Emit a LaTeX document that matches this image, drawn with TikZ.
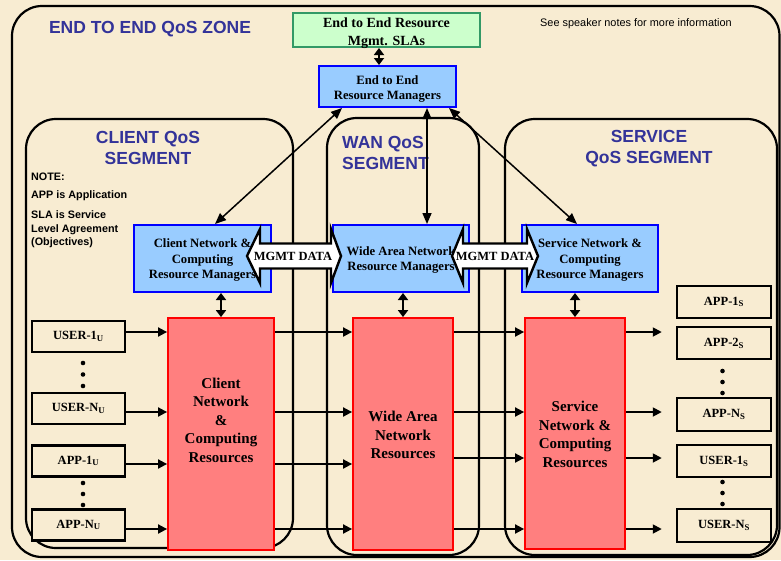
\documentclass[tikz,border=0pt]{standalone}
\usepackage{fontspec}
\setmainfont{Liberation Serif}
\setsansfont{Liberation Sans}
\usetikzlibrary{arrows.meta}

\definecolor{parch}{HTML}{F8ECD2}
\definecolor{zonetxt}{HTML}{333399}
\definecolor{slagreen}{HTML}{CCFFCC}
\definecolor{slaedge}{HTML}{339966}
\definecolor{mgrblue}{HTML}{99CCFF}
\definecolor{resred}{HTML}{FF7F7F}

\tikzset{
  zonebox/.style={draw, line width=2.2pt, rounded corners=30pt},
  zonetitle/.style={text=zonetxt, font=\sffamily\bfseries\fontsize{17.5}{21}\selectfont, align=center, inner sep=0pt},
  notetext/.style={font=\sffamily\bfseries\fontsize{10.8}{13.5}\selectfont, align=left, anchor=west, inner sep=0pt},
  slabox/.style={draw=slaedge, fill=slagreen, line width=2pt, inner sep=0pt},
  slatext/.style={font=\bfseries\fontsize{14}{18}\selectfont, align=center, inner sep=0pt},
  mgrbox/.style={draw=blue, fill=mgrblue, line width=2pt, font=\bfseries\fontsize{12.7}{15.7}\selectfont, align=center, inner sep=0pt},
  mgrtext/.style={font=\bfseries\fontsize{12.7}{15.7}\selectfont, align=center, inner sep=0pt},
  resbox/.style={draw=red, fill=resred, line width=1.8pt, font=\bfseries\fontsize{15}{18.5}\selectfont, align=center, inner sep=0pt},
  restext/.style={font=\bfseries\fontsize{15}{18.5}\selectfont, align=center, inner sep=0pt},
  endbox/.style={draw, line width=2.5pt, fill=parch, font=\bfseries\fontsize{12.5}{15}\selectfont, minimum width=93pt, minimum height=31pt, inner sep=0pt},
  flow/.style={-{Triangle[length=9pt,width=9pt]}, line width=1.8pt},
  both/.style={{Triangle[length=7pt,width=10pt]}-{Triangle[length=7pt,width=10pt]}, line width=2.6pt},
  ctrl/.style={{Triangle[length=11pt,width=9pt]}-{Triangle[length=11pt,width=9pt]}, line width=1.5pt},
  blockarrow/.style={draw, fill=white, line width=2.4pt, line join=miter},
  dotmark/.style={fill, circle, inner sep=0pt, minimum size=4.6pt},
}

\begin{document}
\begin{tikzpicture}[x=1pt,y=-1pt]
  % page and parchment background
  \useasboundingbox (0,0) rectangle (781,560);
  \fill[parch] (0,0) rectangle (781,560);
  \begin{scope}
    \clip (0,0) rectangle (781,560);

    % zone and segment outlines
    \draw[zonebox] (12,6) rectangle (779.5,557);
    \draw[zonebox] (26,119) rectangle (293,548);
    \draw[zonebox] (327,118) rectangle (479,555);
    \draw[zonebox] (505,119) rectangle (777,555);
  \end{scope}

  % titles and notes
  \node[zonetitle] (zonet) at (150,29.5) {END TO END QoS ZONE};
  \node[font=\sffamily\fontsize{10.9}{13}\selectfont, anchor=west, inner sep=0pt] (notes) at (540,24) {See speaker notes for more information};
  \node[zonetitle] (clientt) at (148,148) {CLIENT QoS\\SEGMENT};
  \node[zonetitle, align=left, anchor=west] (want) at (342,152.5) {WAN QoS\\SEGMENT};
  \node[zonetitle] (servt) at (649,148.5) {SERVICE\\QoS SEGMENT};
  \node[notetext] (note1) at (31,177) {NOTE:};
  \node[notetext] (note2) at (31,196) {APP is Application};
  \node[notetext] (note3) at (31,229.5) {SLA is Service\\Level Agreement\\(Objectives)};

  % end-to-end boxes
  \node[slabox, minimum width=187pt, minimum height=34pt] (sla) at (386.5,30) {};
  \node[slatext] (slat) at ([yshift=-3pt]sla.center) {End to End Resource\\Mgmt. SLAs};
  \node[mgrbox, minimum width=137pt, minimum height=41pt] (e2e) at (387.5,86.5) {};
  \node[mgrtext] (e2et) at ([yshift=-2.5pt]e2e.center) {End to End\\Resource Managers};

  % segment resource managers
  \node[mgrbox, minimum width=137pt, minimum height=67pt] (cmgr) at (202.5,258.5) {};
  \node[mgrtext] (cmgrt) at ([yshift=-1.5pt]cmgr.center) {Client Network \&\\Computing\\Resource Managers};
  \node[mgrbox, minimum width=136pt, minimum height=67pt] (wmgr) at (401,258.5) {};
  \node[mgrtext] (wmgrt) at ([yshift=-1.5pt]wmgr.center) {Wide Area Network\\Resource Managers};
  \node[mgrbox, minimum width=136pt, minimum height=67pt] (smgr) at (590,258.5) {};
  \node[mgrtext] (smgrt) at ([yshift=-1.5pt]smgr.center) {Service Network \&\\Computing\\Resource Managers};

  % segment resources
  \node[resbox, minimum width=106pt, minimum height=232pt] (cres) at (221,434) {};
  \node[restext] (crest) at ([yshift=14pt]cres.center) {Client\\Network\\\&\\Computing\\Resources};
  \node[resbox, minimum width=100pt, minimum height=232pt] (wres) at (403,434) {};
  \node[restext] (wrest) at ([yshift=-1pt]wres.center) {Wide Area\\Network\\Resources};
  \node[resbox, minimum width=100pt, minimum height=231pt] (sres) at (575,433.5) {};
  \node[restext] (srest) at ([yshift=-1pt]sres.center) {Service\\Network \&\\Computing\\Resources};

  % client end points
  \node[endbox] (u1) at (78.5,336.5) {USER-1\textsubscript{U}};
  \node[endbox] (uN) at (78.5,408.5) {USER-N\textsubscript{U}};
  \node[endbox] (a1) at (78.5,461) {APP-1\textsubscript{U}};
  \node[endbox] (aN) at (78.5,525) {APP-N\textsubscript{U}};
  \foreach \y [count=\i] in {363,374.5,386} \node[dotmark] (cdu\i) at (83,\y) {};
  \foreach \y [count=\i] in {483,494,505} \node[dotmark] (cda\i) at (83,\y) {};

  % service end points
  \node[endbox, minimum width=94pt, minimum height=32pt] (as1) at (724,302) {APP-1\textsubscript{S}};
  \node[endbox, minimum width=94pt, minimum height=32pt] (as2) at (724,343) {APP-2\textsubscript{S}};
  \node[endbox, minimum width=94pt, minimum height=33pt] (asN) at (724,414.5) {APP-N\textsubscript{S}};
  \node[endbox, minimum width=94pt, minimum height=32pt] (us1) at (724,461) {USER-1\textsubscript{S}};
  \node[endbox, minimum width=94pt, minimum height=33pt] (usN) at (724,525.5) {USER-N\textsubscript{S}};
  \foreach \y [count=\i] in {371,382,393} \node[dotmark] (sda\i) at (722.5,\y) {};
  \foreach \y [count=\i] in {482,493,504} \node[dotmark] (sdu\i) at (722.5,\y) {};

  % traffic rows
  \coordinate (r1) at (0,332);
  \coordinate (r2) at (0,412);
  \coordinate (r3) at (0,464);
  \coordinate (r3b) at (0,458);
  \coordinate (r4) at (0,529);

  \draw[flow] (u1.east |- r1) -- (cres.west |- r1);
  \draw[flow] (uN.east |- r2) -- (cres.west |- r2);
  \draw[flow] (a1.east |- r3) -- (cres.west |- r3);
  \draw[flow] (aN.east |- r4) -- (cres.west |- r4);

  \foreach \r in {r1,r2,r3,r4}
    \draw[flow] (cres.east |- \r) -- (wres.west |- \r);
  \foreach \r in {r1,r2,r3b,r4}
    \draw[flow] (wres.east |- \r) -- (sres.west |- \r);

  \draw[flow] (sres.east |- r1) -- ([xshift=-14pt]as2.west |- r1);
  \draw[flow] (sres.east |- r2) -- ([xshift=-14pt]asN.west |- r2);
  \draw[flow] (sres.east |- r3b) -- ([xshift=-14pt]us1.west |- r3b);
  \draw[flow] (sres.east |- r4) -- ([xshift=-14pt]usN.west |- r4);

  % management links
  \coordinate (c1) at (379,0);
  \draw[both] (sla.south -| c1) -- (e2e.north -| c1);
  \draw[both] (cmgr.south -| cres.north) -- (cres.north);
  \draw[both] (wmgr.south -| wres.north) -- (wres.north);
  \draw[both] (smgr.south -| sres.north) -- (sres.north);

  \coordinate (c2) at ([xshift=26pt]wmgr.north);
  \draw[ctrl] ([xshift=24pt]e2e.south west) -- ([xshift=12.5pt]cmgr.north);
  \draw[ctrl] (e2e.south -| c2) -- (c2);
  \draw[ctrl] ([xshift=-8pt]e2e.south east) -- ([xshift=-13pt]smgr.north);

  % management data exchange between segment managers
  \draw[blockarrow] (247,256) -- (260,229) -- (260,243.5) -- (331,243.5) -- (331,229) -- (341,256)
    -- (331,283) -- (331,268.5) -- (260,268.5) -- (260,283) -- cycle;
  \node[font=\bfseries\fontsize{12.5}{15}\selectfont, inner sep=0pt] (mg1) at (293,256.5) {MGMT DATA};
  \draw[blockarrow] (452,256) -- (463,229) -- (463,243.5) -- (527,243.5) -- (527,229) -- (538,256)
    -- (527,283) -- (527,268.5) -- (463,268.5) -- (463,283) -- cycle;
  \node[font=\bfseries\fontsize{12.5}{15}\selectfont, inner sep=0pt] (mg2) at (495,256.5) {MGMT DATA};
\end{tikzpicture}
\end{document}
